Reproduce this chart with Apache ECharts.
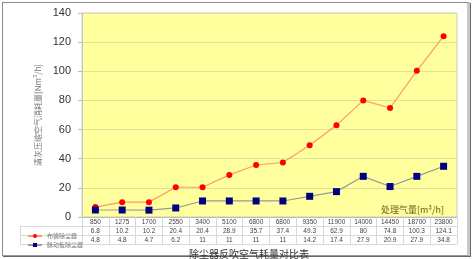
<!DOCTYPE html>
<html><head><meta charset="utf-8">
<script src="https://cdn.jsdelivr.net/npm/echarts@6/dist/echarts.min.js"></script>
<style>
html,body{margin:0;padding:0;background:#fff;}
#frame{position:absolute;left:2px;top:2px;width:464px;height:252px;border:1px solid #8a8a8a;border-right:3px solid #c8c8c8;border-bottom:1px solid #999;box-shadow:1px 1px 0 #666;}
#c{position:absolute;left:0;top:0;width:473px;height:259px;}
</style></head>
<body>
<div id="frame"></div>
<div id="c"></div>
<script>
const categories = ['850','1275','1700','2550','3400','5100','6800','6800','9350','11900','14000','14450','18700','23800'];
const bagFilter = [6.8,10.2,10.2,20.4,20.4,28.9,35.7,37.4,49.3,62.9,80,74.8,100.3,124.1];
const pulsePlate = [4.8,4.8,4.7,6.2,11,11,11,11,14.2,17.4,27.9,20.9,27.9,34.8];
const seriesNames = ['布袋除尘器','脉动板除尘器'];
const yTicks = {min:0,max:140,interval:20};

const chart = echarts.init(document.getElementById('c'), null, {renderer:'canvas'});
const lineColor = '#d8d8d8';
function hLine(x1,x2,y){return {type:'line',shape:{x1:x1,y1:y,x2:x2,y2:y},style:{stroke:lineColor,lineWidth:1}};}
chart.setOption({
  backgroundColor:'transparent',
  animation:false,
  title:[
    {text:'除尘器反吹空气耗量对比表',left:244,textAlign:'center',top:244,textStyle:{fontSize:10,fontWeight:'normal',color:'#333',fontFamily:'Noto Sans CJK SC'}},
    {text:'处理气量[m³/h]',right:24,top:200,textStyle:{fontSize:9,fontWeight:'normal',color:'#6b5a1a',fontFamily:'Noto Sans CJK SC'}}
  ],
  legend:{
    orient:'vertical',left:22,top:228,itemWidth:14,itemHeight:5,itemGap:3,
    data:seriesNames,
    textStyle:{fontSize:6,lineHeight:6,color:'#777',fontFamily:'Noto Sans CJK SC',padding:[0,0,0,0]}
  },
  grid:{left:82,right:16,top:13,bottom:42,show:true,backgroundColor:'#ffff9e',borderColor:'#c8c8c8',borderWidth:1},
  xAxis:{
    type:'category',data:categories,boundaryGap:true,
    axisLine:{show:true,lineStyle:{color:'#bbb'}},
    axisTick:{show:true,length:27,lineStyle:{color:lineColor}},
    axisLabel:{
      margin:1,fontSize:6.5,lineHeight:9,color:'#444',fontFamily:'Liberation Sans',interval:0,
      formatter:function(v,i){return v+'\n'+bagFilter[i]+'\n'+pulsePlate[i];}
    }
  },
  yAxis:{
    type:'value',min:yTicks.min,max:yTicks.max,interval:yTicks.interval,
    name:'清灰压缩空气消耗量[Nm³/h]',nameLocation:'middle',nameRotate:90,nameGap:39,
    nameTextStyle:{fontSize:8,color:'#777',fontFamily:'Noto Sans CJK SC'},
    axisLine:{show:true,lineStyle:{color:'#c8c8c8'}},
    axisTick:{show:true,length:4,lineStyle:{color:'#bbb'}},
    axisLabel:{fontSize:11,color:'#333',margin:11,fontFamily:'Liberation Sans'},
    splitLine:{show:true,lineStyle:{color:'#e2e29a'}}
  },
  graphic:[
    hLine(20,457,226.5),
    hLine(20,457,235.5),
    hLine(20,457,244.5),
    {type:'line',shape:{x1:20.5,y1:226,x2:20.5,y2:245},style:{stroke:lineColor,lineWidth:1}}
  ],
  series:[
    {name:seriesNames[0],type:'line',data:bagFilter,symbol:'circle',symbolSize:6,
      itemStyle:{color:'#ff0000'},lineStyle:{color:'#ff9966',width:1.2}},
    {name:seriesNames[1],type:'line',data:pulsePlate,symbol:'rect',symbolSize:7,
      itemStyle:{color:'#000080'},lineStyle:{color:'#999999',width:1.2}}
  ]
});
</script>
</body></html>
